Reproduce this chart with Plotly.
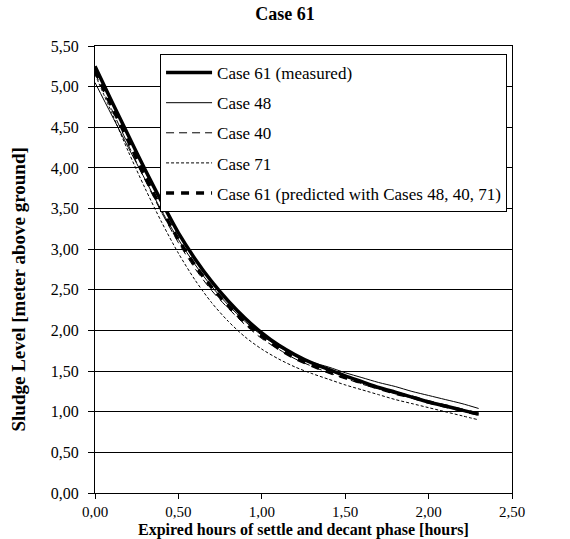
import plotly.graph_objects as go

hours = [0.0, 0.1, 0.2, 0.3, 0.4, 0.5, 0.6, 0.7, 0.8, 0.9, 1.0, 1.1, 1.2,
         1.3, 1.4, 1.5, 1.6, 1.7, 1.8, 1.9, 2.0, 2.1, 2.2, 2.3]

case61_measured = [5.25, 4.82, 4.40, 3.98, 3.58, 3.20, 2.88, 2.60, 2.36, 2.15, 1.97, 1.82,
                   1.70, 1.60, 1.52, 1.44, 1.37, 1.30, 1.24, 1.18, 1.12, 1.07, 1.02, 0.97]
case48 = [5.05, 4.65, 4.25, 3.86, 3.47, 3.12, 2.81, 2.54, 2.31, 2.11, 1.94, 1.80,
          1.70, 1.61, 1.55, 1.48, 1.42, 1.36, 1.31, 1.25, 1.20, 1.15, 1.10, 1.04]
case40 = [5.17, 4.72, 4.28, 3.85, 3.45, 3.08, 2.76, 2.49, 2.27, 2.07, 1.90, 1.77,
          1.65, 1.56, 1.48, 1.41, 1.34, 1.28, 1.22, 1.17, 1.11, 1.06, 1.01, 0.96]
case71 = [5.15, 4.68, 4.20, 3.75, 3.33, 2.95, 2.62, 2.34, 2.11, 1.92, 1.77, 1.65,
          1.55, 1.47, 1.40, 1.33, 1.27, 1.21, 1.15, 1.10, 1.05, 1.00, 0.95, 0.90]
case61_predicted = [5.20, 4.76, 4.33, 3.90, 3.49, 3.12, 2.80, 2.53, 2.30, 2.10, 1.93, 1.78,
                    1.66, 1.57, 1.49, 1.42, 1.36, 1.29, 1.23, 1.18, 1.12, 1.07, 1.02, 0.97]

x_ticks = [0, 0.5, 1.0, 1.5, 2.0, 2.5]
x_tick_labels = ["0,00", "0,50", "1,00", "1,50", "2,00", "2,50"]
y_ticks = [i * 0.5 for i in range(12)]
y_tick_labels = ["0,00", "0,50", "1,00", "1,50", "2,00", "2,50", "3,00",
                 "3,50", "4,00", "4,50", "5,00", "5,50"]

series = [
    ("Case 61 (measured)", case61_measured, dict(color="black", width=3.5, dash="solid")),
    ("Case 48", case48, dict(color="black", width=1, dash="solid")),
    ("Case 40", case40, dict(color="black", width=1, dash="8px,5px")),
    ("Case 71", case71, dict(color="black", width=1, dash="3px,2px")),
    ("Case 61 (predicted with Cases 48, 40, 71)", case61_predicted,
     dict(color="black", width=3.5, dash="8px,7px")),
]

FONT = "Liberation Serif, Times New Roman, serif"
fig = go.Figure()
for i, (name, ys, line) in enumerate(series):
    line = dict(line, shape="spline", smoothing=0.8)
    fig.add_trace(go.Scatter(x=hours, y=ys, name=name, mode="lines", line=line,
                             legendgroup=f"g{i}"))

fig.update_layout(
    width=570, height=539,
    paper_bgcolor="white", plot_bgcolor="white",
    margin=dict(l=95, r=58, t=46, b=46),
    font=dict(family=FONT, size=16, color="black"),
    title=dict(text="<b>Case 61</b>", x=0.5, xanchor="center", y=0.975, yanchor="middle",
               font=dict(family=FONT, size=18)),
    showlegend=True,
    legend=dict(x=0.156, y=0.982, xanchor="left", yanchor="top",
                bgcolor="white", bordercolor="black", borderwidth=1,
                font=dict(family=FONT, size=17), tracegroupgap=5, itemwidth=46),
    xaxis=dict(range=[0, 2.5], tickvals=x_ticks, ticktext=x_tick_labels,
               showgrid=False, zeroline=False, showline=True, linecolor="black",
               linewidth=1, mirror=True, ticks="outside", ticklen=5, tickcolor="black",
               tickfont=dict(family=FONT, size=15), automargin=False),
    yaxis=dict(range=[0, 5.5], tickvals=y_ticks, ticktext=y_tick_labels,
               showgrid=True, gridcolor="black", gridwidth=1, zeroline=False,
               showline=True, linecolor="black", linewidth=1, mirror=True,
               ticks="outside", ticklen=6, tickcolor="black", ticklabelstandoff=6,
               tickfont=dict(family=FONT, size=16), automargin=False),
    annotations=[
        dict(text="<b>Expired hours of settle and decant phase [hours]</b>",
             xref="paper", yref="paper", x=0.5, y=0, xanchor="center",
             yanchor="middle", yshift=-37, showarrow=False,
             font=dict(family=FONT, size=16)),
        dict(text="<b>Sludge Level [meter above ground]</b>",
             xref="paper", yref="paper", x=0, y=0.5, xanchor="center",
             yanchor="middle", xshift=-77, yshift=-20, textangle=-90, showarrow=False,
             font=dict(family=FONT, size=19)),
    ],
)

fig.write_html("out.html")
